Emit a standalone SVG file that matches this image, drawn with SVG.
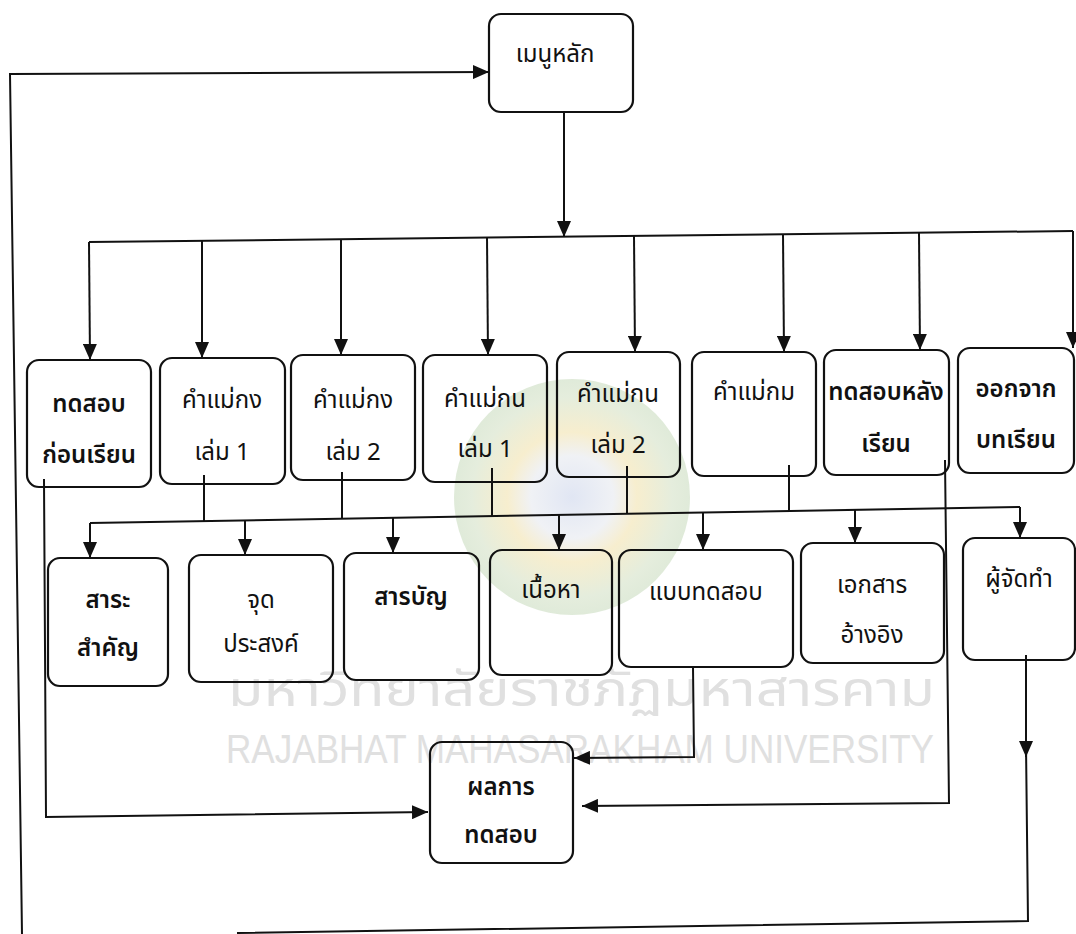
<svg xmlns="http://www.w3.org/2000/svg" width="1076" height="934" viewBox="0 0 1076 934">
<style>
.box{fill:none;stroke:#111;stroke-width:2.2}
.ln{fill:none;stroke:#111;stroke-width:2}
.t{font-family:"Noto Sans Thai","Noto Serif Thai","Loma","Garuda","Tlwg Typo","DejaVu Sans",sans-serif;font-size:24px;fill:#111;text-anchor:middle}
.b{font-weight:600}
.wm{font-family:"Noto Sans Thai","Loma","DejaVu Sans",sans-serif;fill:#e0e0e0;text-anchor:start}
</style>
<defs>
<marker id="ah" markerUnits="userSpaceOnUse" markerWidth="16" markerHeight="14" refX="16" refY="7" orient="auto">
<path d="M0,0 L16,7 L0,14 z" fill="#111"/>
</marker>
<radialGradient id="lg" cx="0.5" cy="0.5" r="0.5">
<stop offset="0" stop-color="#dde3f2"/>
<stop offset="0.35" stop-color="#eef0f4"/>
<stop offset="0.55" stop-color="#f6ecc9"/>
<stop offset="0.85" stop-color="#e2ebd9"/>
<stop offset="1" stop-color="#dce8d5"/>
</radialGradient>
</defs>
<rect width="1076" height="934" fill="#fff"/>
<g id="watermark">
<circle cx="572" cy="497" r="118" fill="url(#lg)" opacity="0.9"/>
<text class="wm" x="228" y="706" font-size="48" textLength="707" lengthAdjust="spacingAndGlyphs">มหาวิทยาลัยราชภัฏมหาสารคาม</text>
<text class="wm" x="226" y="763" font-size="40" textLength="708" lengthAdjust="spacingAndGlyphs" style="font-family:'Liberation Sans','DejaVu Sans',sans-serif">RAJABHAT MAHASARAKHAM UNIVERSITY</text>
</g>
<g id="connectors">
<path class="ln" d="M22,934 L10,74 L489,72" marker-end="url(#ah)"/>
<path class="ln" d="M564,113 L564,237" marker-end="url(#ah)"/>
<path class="ln" d="M89,242 L1073,231"/>
<path class="ln" d="M89,242 L90,360" marker-end="url(#ah)"/>
<path class="ln" d="M202,241 L202,358" marker-end="url(#ah)"/>
<path class="ln" d="M341,239 L341,355" marker-end="url(#ah)"/>
<path class="ln" d="M487,237 L488,355" marker-end="url(#ah)"/>
<path class="ln" d="M634,236 L635,352" marker-end="url(#ah)"/>
<path class="ln" d="M783,234 L784,352" marker-end="url(#ah)"/>
<path class="ln" d="M919,233 L920,350" marker-end="url(#ah)"/>
<path class="ln" d="M1073,231 L1073,348" marker-end="url(#ah)"/>
<path class="ln" d="M90,523 L1020,507"/>
<path class="ln" d="M204,475 L204,521"/>
<path class="ln" d="M342,472 L342,519"/>
<path class="ln" d="M492,468 L492,517"/>
<path class="ln" d="M627,466 L627,514"/>
<path class="ln" d="M789,465 L789,512"/>
<path class="ln" d="M90,523 L90,558" marker-end="url(#ah)"/>
<path class="ln" d="M245,520 L245,555" marker-end="url(#ah)"/>
<path class="ln" d="M393,518 L393,553" marker-end="url(#ah)"/>
<path class="ln" d="M559,515 L559,550" marker-end="url(#ah)"/>
<path class="ln" d="M703,512 L703,550" marker-end="url(#ah)"/>
<path class="ln" d="M855,510 L855,543" marker-end="url(#ah)"/>
<path class="ln" d="M1020,507 L1020,538" marker-end="url(#ah)"/>
<path class="ln" d="M44,479 L46,817 L428,812" marker-end="url(#ah)"/>
<path class="ln" d="M693,667 L694,757 L574,758" marker-end="url(#ah)"/>
<path class="ln" d="M945,460 L949,803 L582,806" marker-end="url(#ah)"/>
<path class="ln" d="M1026,655 L1026,757" marker-end="url(#ah)"/>
<path class="ln" d="M1026,745 L1028,921 L237,933"/>
</g>
<g id="n-menu"><rect class="box" x="489" y="14" width="144" height="98" rx="12"/><text class="t" x="555" y="62">เมนูหลัก</text></g>
<g id="n-pretest"><rect class="box" x="27" y="360" width="124" height="127" rx="12"/><text class="t b" x="89" y="412">ทดสอบ</text><text class="t b" x="89" y="463">ก่อนเรียน</text></g>
<g id="n-kong1"><rect class="box" x="160" y="358" width="125" height="126" rx="12"/><text class="t" x="222" y="408">คำแม่กง</text><text class="t" x="222" y="460">เล่ม 1</text></g>
<g id="n-kong2"><rect class="box" x="291" y="355" width="124" height="125" rx="12"/><text class="t" x="353" y="408">คำแม่กง</text><text class="t" x="353" y="460">เล่ม 2</text></g>
<g id="n-kon1"><rect class="box" x="423" y="355" width="124" height="127" rx="12"/><text class="t" x="485" y="407">คำแม่กน</text><text class="t" x="485" y="457">เล่ม 1</text></g>
<g id="n-kon2"><rect class="box" x="557" y="352" width="123" height="125" rx="12"/><text class="t" x="618" y="402">คำแม่กน</text><text class="t" x="618" y="453">เล่ม 2</text></g>
<g id="n-kom"><rect class="box" x="692" y="352" width="124" height="124" rx="12"/><text class="t" x="754" y="400">คำแม่กม</text></g>
<g id="n-posttest"><rect class="box" x="824" y="350" width="125" height="125" rx="12"/><text class="t b" x="886" y="400">ทดสอบหลัง</text><text class="t b" x="886" y="452">เรียน</text></g>
<g id="n-exit"><rect class="box" x="958" y="348" width="116" height="125" rx="12"/><text class="t b" x="1016" y="397">ออกจาก</text><text class="t b" x="1016" y="448">บทเรียน</text></g>
<g id="n-sara"><rect class="box" x="48" y="558" width="120" height="128" rx="12"/><text class="t b" x="108" y="608">สาระ</text><text class="t b" x="108" y="656">สำคัญ</text></g>
<g id="n-objective"><rect class="box" x="189" y="555" width="144" height="127" rx="12"/><text class="t" x="261" y="608">จุด</text><text class="t" x="261" y="652">ประสงค์</text></g>
<g id="n-toc"><rect class="box" x="344" y="553" width="135" height="127" rx="12"/><text class="t b" x="411" y="605">สารบัญ</text></g>
<g id="n-content"><rect class="box" x="490" y="550" width="122" height="125" rx="12"/><text class="t" x="551" y="598">เนื้อหา</text></g>
<g id="n-test"><rect class="box" x="619" y="550" width="174" height="117" rx="12"/><text class="t" x="706" y="600">แบบทดสอบ</text></g>
<g id="n-ref"><rect class="box" x="801" y="543" width="143" height="120" rx="12"/><text class="t" x="872" y="593">เอกสาร</text><text class="t" x="872" y="643">อ้างอิง</text></g>
<g id="n-author"><rect class="box" x="963" y="538" width="112" height="122" rx="12"/><text class="t" x="1019" y="587">ผู้จัดทำ</text></g>
<g id="n-result"><rect class="box" x="430" y="742" width="143" height="121" rx="12"/><text class="t b" x="501" y="795">ผลการ</text><text class="t b" x="501" y="843">ทดสอบ</text></g>
</svg>
